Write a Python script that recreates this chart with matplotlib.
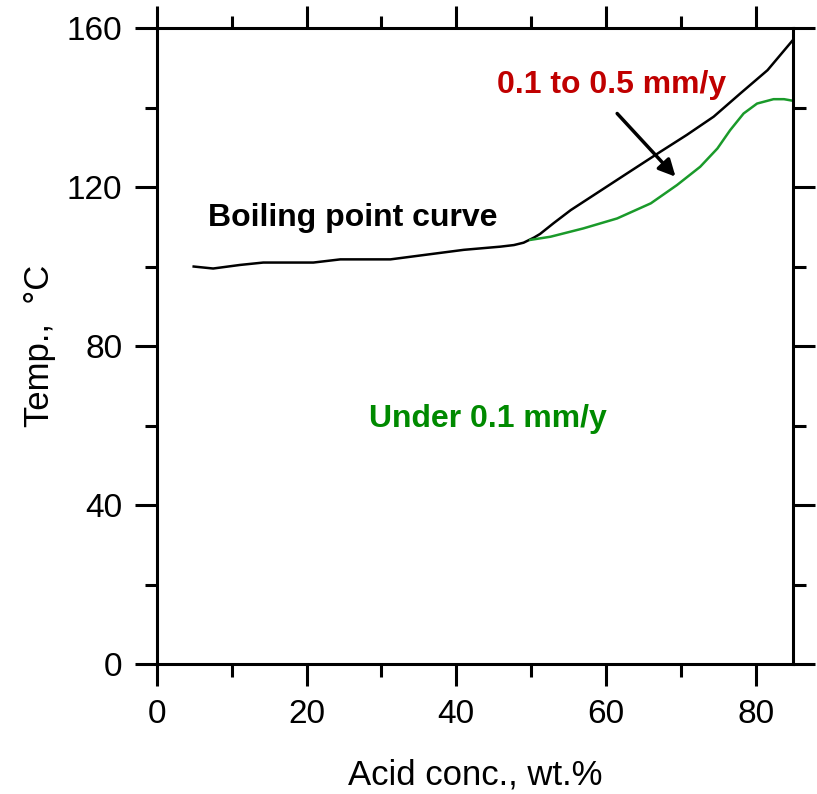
import numpy as np
import matplotlib.pyplot as plt
from matplotlib.ticker import MultipleLocator

plt.rcParams['font.family'] = ['Liberation Sans', 'DejaVu Sans']

# boiling point curve (wt.%, degC)
bp_x = [4.9, 7.5, 11.1, 14.2, 20.9, 24.5, 31.2, 36.5, 41.0, 45.9, 47.7, 49.0,
        50.4, 51.2, 53.0, 55.3, 58.4, 62.8, 67.3, 70.8, 74.4, 78.0, 81.6, 85.0]
bp_y = [100.0, 99.5, 100.4, 101.0, 101.0, 101.8, 101.8, 103.1, 104.2, 105.0,
        105.4, 106.0, 107.3, 108.2, 110.9, 114.2, 118.0, 123.4, 128.9, 133.1,
        137.7, 143.6, 149.4, 157.0]

# 0.1 mm/y iso-corrosion line
iso_x = [49.9, 52.6, 57.0, 61.5, 66.0, 69.5, 72.6, 74.9, 76.6, 78.4, 80.2,
         82.4, 83.8, 85.0]
iso_y = [106.7, 107.5, 109.6, 112.1, 115.9, 120.5, 125.1, 129.7, 134.3, 138.5,
         141.0, 142.1, 142.1, 141.7]

green_line = '#1a9a2a'
green_text = '#008a00'
red_text = '#c00000'

fig = plt.figure(figsize=(8.17, 7.94), dpi=100)
ax = fig.add_axes([0.1922, 0.1637, 0.7784, 0.801])

ax.plot(bp_x, bp_y, color='black', lw=1.8, solid_joinstyle='round')
ax.plot(iso_x, iso_y, color=green_line, lw=1.8, solid_joinstyle='round')

ax.set_xlim(0, 85)
ax.set_ylim(0, 160)
ax.xaxis.set_major_locator(MultipleLocator(20))
ax.xaxis.set_minor_locator(MultipleLocator(10))
ax.yaxis.set_major_locator(MultipleLocator(40))
ax.yaxis.set_minor_locator(MultipleLocator(20))
ax.tick_params(which='both', direction='out', top=True, right=True, width=2.2,
               labelsize=24, pad=9)
ax.tick_params(which='major', length=16)
ax.tick_params(which='minor', length=9)
for s in ax.spines.values():
    s.set_linewidth(2.2)

ax.set_xlabel('Acid conc., wt.%', fontsize=25, labelpad=21)
ax.set_ylabel('Temp.,  °C', fontsize=25, labelpad=8)

ax.text(26.1, 110.3, 'Boiling point curve', fontsize=23, fontweight='bold',
        ha='center', va='baseline', color='black')
ax.text(60.7, 143.6, '0.1 to 0.5 mm/y', fontsize=23, fontweight='bold',
        ha='center', va='baseline', color=red_text)
ax.text(44.2, 59.6, 'Under 0.1 mm/y', fontsize=23, fontweight='bold',
        ha='center', va='baseline', color=green_text)
ax.annotate('', xy=(69.3, 122.6), xytext=(61.5, 138.5),
            arrowprops=dict(arrowstyle='-|>', color='black', lw=2.5,
                            mutation_scale=25, shrinkA=0, shrinkB=0))

fig.savefig('out.png', dpi=100)
